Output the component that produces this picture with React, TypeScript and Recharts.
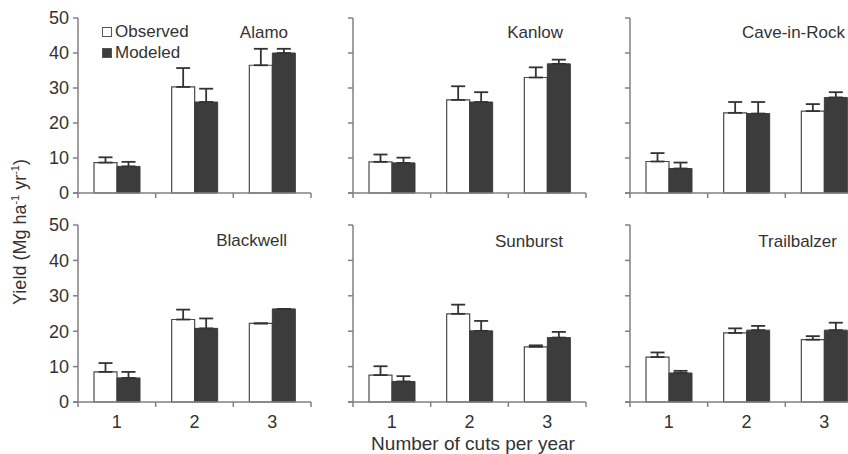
import React from 'react';
import { BarChart, Bar, XAxis, YAxis, ErrorBar, Legend } from 'recharts';

// ---- data ----
const cutCategories = ['1', '2', '3'];
const yTicks = [0, 10, 20, 30, 40, 50];
const seriesNames = ['Observed', 'Modeled'];
const cultivars = ['Alamo', 'Kanlow', 'Cave-in-Rock', 'Blackwell', 'Sunburst', 'Trailbalzer'];

const alamoObserved = [8.7, 30.3, 36.5];
const alamoObservedErr = [1.5, 5.4, 4.7];
const alamoModeled = [7.6, 26.0, 40.0];
const alamoModeledErr = [1.3, 3.8, 1.2];

const kanlowObserved = [8.9, 26.6, 33.0];
const kanlowObservedErr = [2.1, 3.9, 2.9];
const kanlowModeled = [8.6, 26.0, 36.9];
const kanlowModeledErr = [1.5, 2.8, 1.2];

const caveObserved = [9.0, 22.9, 23.4];
const caveObservedErr = [2.4, 3.1, 2.0];
const caveModeled = [7.0, 22.7, 27.3];
const caveModeledErr = [1.7, 3.3, 1.5];

const blackwellObserved = [8.5, 23.3, 22.2];
const blackwellObservedErr = [2.5, 2.8, 0];
const blackwellModeled = [6.8, 20.8, 26.3];
const blackwellModeledErr = [1.7, 2.8, 0];

const sunburstObserved = [7.6, 24.9, 15.6];
const sunburstObservedErr = [2.5, 2.6, 0.4];
const sunburstModeled = [5.8, 20.1, 18.2];
const sunburstModeledErr = [1.5, 2.8, 1.6];

const trailObserved = [12.7, 19.5, 17.6];
const trailObservedErr = [1.3, 1.3, 1.0];
const trailModeled = [8.2, 20.3, 20.3];
const trailModeledErr = [0.6, 1.2, 2.1];

const panelSeries = [
  [alamoObserved, alamoObservedErr, alamoModeled, alamoModeledErr],
  [kanlowObserved, kanlowObservedErr, kanlowModeled, kanlowModeledErr],
  [caveObserved, caveObservedErr, caveModeled, caveModeledErr],
  [blackwellObserved, blackwellObservedErr, blackwellModeled, blackwellModeledErr],
  [sunburstObserved, sunburstObservedErr, sunburstModeled, sunburstModeledErr],
  [trailObserved, trailObservedErr, trailModeled, trailModeledErr],
];

// ---- layout ----
const FONT = "'Liberation Sans', Arial, Helvetica, sans-serif";
const TEXT = '#333333';
const AXIS = '#808080';
const COLS = [78, 353, 630];
const PLOT_W = 233;
const ROWS = [
  { top: 18, h: 175 },
  { top: 225, h: 177 },
];
const YW = 50;
const MT = 12;
const MR = 2;
const XH = 45;
const BAND = PLOT_W / 3;

function buildData(idx: number) {
  const [obs, obsErr, mod, modErr] = panelSeries[idx];
  return cutCategories.map((c, i) => ({
    cut: c,
    Observed: obs[i],
    obsErr: [0, obsErr[i]],
    Modeled: mod[i],
    modErr: [0, modErr[i]],
  }));
}

function renderCutTick(props: any, showLabel: boolean) {
  const { x, y, payload, index } = props;
  const half = BAND / 2;
  return (
    <g key={`t-${index}`}>
      <line x1={x - half} x2={x - half} y1={y} y2={y + 5} stroke={AXIS} strokeWidth={1.5} />
      {index === 0 && (
        <line x1={x - half - 5} x2={x - half} y1={y} y2={y} stroke={AXIS} strokeWidth={1.5} />
      )}
      {index === cutCategories.length - 1 && (
        <line x1={x + half} x2={x + half} y1={y} y2={y + 5} stroke={AXIS} strokeWidth={1.5} />
      )}
      {showLabel && (
        <text x={x} y={y + 26} textAnchor="middle" fontSize={18} fill={TEXT} fontFamily={FONT}>
          {payload.value}
        </text>
      )}
    </g>
  );
}

function LegendContent() {
  const row = (name: string, filled: boolean) => (
    <div key={name} style={{ display: 'flex', alignItems: 'center', height: 21 }}>
      <span
        style={{
          display: 'inline-block',
          width: 8,
          height: 8,
          border: '1px solid #555',
          background: filled ? '#3c3c3c' : '#fff',
          marginRight: 3,
        }}
      />
      <span>{name}</span>
    </div>
  );
  return (
    <div style={{ fontFamily: FONT, fontSize: 17, color: TEXT, lineHeight: '21px' }}>
      {row(seriesNames[0], false)}
      {row(seriesNames[1], true)}
    </div>
  );
}

function Panel({ idx }: { idx: number }) {
  const r = Math.floor(idx / 3);
  const c = idx % 3;
  const row = ROWS[r];
  const data = buildData(idx);
  return (
    <div style={{ position: 'absolute', left: COLS[c] - YW, top: row.top - MT }}>
      <BarChart
        width={YW + PLOT_W + MR}
        height={MT + row.h + XH}
        data={data}
        margin={{ top: MT, right: MR, bottom: 0, left: 0 }}
        barGap={0}
        barSize={23}
      >
        <XAxis
          dataKey="cut"
          height={XH}
          axisLine={{ stroke: AXIS, strokeWidth: 1.5 }}
          tickLine={false}
          tickSize={0}
          tickMargin={0}
          interval={0}
          tick={(p: any) => renderCutTick(p, r === 1)}
        />
        <YAxis
          type="number"
          domain={[0, 50]}
          ticks={yTicks}
          interval={0}
          width={YW}
          axisLine={{ stroke: AXIS, strokeWidth: 1.5 }}
          tickLine={{ stroke: AXIS, strokeWidth: 1.5 }}
          tickSize={5}
          tickMargin={4}
          tick={{ fill: TEXT, fontSize: 18, fontFamily: FONT }}
          tickFormatter={(v: number) => (c === 0 ? String(v) : '')}
        />
        {idx === 0 && (
          <Legend
            layout="horizontal"
            verticalAlign="middle"
            align="center"
            content={() => <LegendContent />}
            wrapperStyle={{ left: 74, top: 8 + (MT - 5), width: 'auto', height: 'auto' }}
          />
        )}
        <Bar dataKey="Observed" name={seriesNames[0]} fill="#ffffff" stroke="#4a4a4a" strokeWidth={1.2} isAnimationActive={false}>
          <ErrorBar dataKey="obsErr" direction="y" width={7} stroke="#333" strokeWidth={1.8} />
        </Bar>
        <Bar dataKey="Modeled" name={seriesNames[1]} fill="#3c3c3c" stroke="#3c3c3c" strokeWidth={1} isAnimationActive={false}>
          <ErrorBar dataKey="modErr" direction="y" width={7} stroke="#333" strokeWidth={1.8} />
        </Bar>
      </BarChart>
    </div>
  );
}

const titleRight = [210, 210, 215, 209, 210, 207];
const titleBaseline = [38, 38, 38, 246, 247, 247];

export default function App() {
  return (
    <div
      style={{
        position: 'absolute',
        left: 0,
        top: 0,
        width: 848,
        height: 454,
        overflow: 'hidden',
        background: '#fff',
      }}
    >
      {cultivars.map((_, i) => (
        <Panel key={i} idx={i} />
      ))}
      <svg
        width={848}
        height={454}
        style={{ position: 'absolute', left: 0, top: 0, pointerEvents: 'none' }}
      >
        {cultivars.map((name, i) => (
          <text
            key={name}
            x={COLS[i % 3] + titleRight[i]}
            y={titleBaseline[i]}
            textAnchor="end"
            fontSize={17}
            fill={TEXT}
            fontFamily={FONT}
          >
            {name}
          </text>
        ))}
        <text x={473} y={450} textAnchor="middle" fontSize={19} fill={TEXT} fontFamily={FONT}>
          Number of cuts per year
        </text>
        <text
          transform="translate(26,232) rotate(-90)"
          textAnchor="middle"
          fontSize={18}
          fill={TEXT}
          fontFamily={FONT}
        >
          Yield (Mg ha
          <tspan dy={-7} fontSize={11}>-1</tspan>
          <tspan dy={7}> yr</tspan>
          <tspan dy={-7} fontSize={11}>-1</tspan>
          <tspan dy={7}>)</tspan>
        </text>
      </svg>
    </div>
  );
}
